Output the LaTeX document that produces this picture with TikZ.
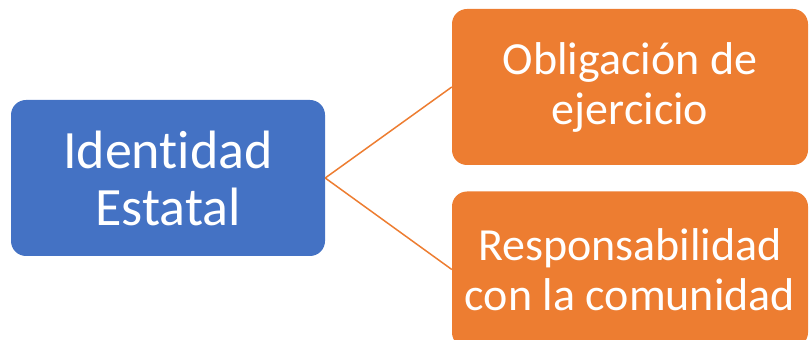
\documentclass[tikz,border=0pt]{standalone}
\usepackage{fontspec}
\setmainfont[Ligatures=NoCommon]{Carlito}
\usepackage{xcolor}
\usepackage{tikz}
\usetikzlibrary{positioning}
\definecolor{boxblue}{HTML}{4472C4}
\definecolor{boxorange}{HTML}{ED7D31}

\begin{document}
\begin{tikzpicture}[x=1pt,y=1pt,
    mainbox/.style={rectangle, rounded corners=15pt, fill=boxblue, text=white, align=center,
        minimum width=314pt, minimum height=156pt, inner sep=0pt,
        font=\fontsize{54}{57}\selectfont},
    subbox/.style={rectangle, rounded corners=15pt, fill=boxorange, text=white, align=center,
        minimum width=356pt, minimum height=156pt, inner sep=0pt,
        font=\fontsize{46}{50}\selectfont},
    link/.style={boxorange, line width=1.5pt}]
    \useasboundingbox (0,0) rectangle (809,340);
    \clip (0,0) rectangle (809,340);

    % Boxes
    \node[mainbox] (ident) at (168,162) {Identidad\\Estatal};
    \node[subbox] (oblig) at (630,253) {Obligación de\\ejercicio};
    \node[subbox] (resp) at (630,70.5) {Responsabilidad\\con la comunidad};

    % Links
    \draw[link] (ident.east) -- (oblig.west);
    \draw[link] (ident.east) -- (resp.west);
\end{tikzpicture}
\end{document}
